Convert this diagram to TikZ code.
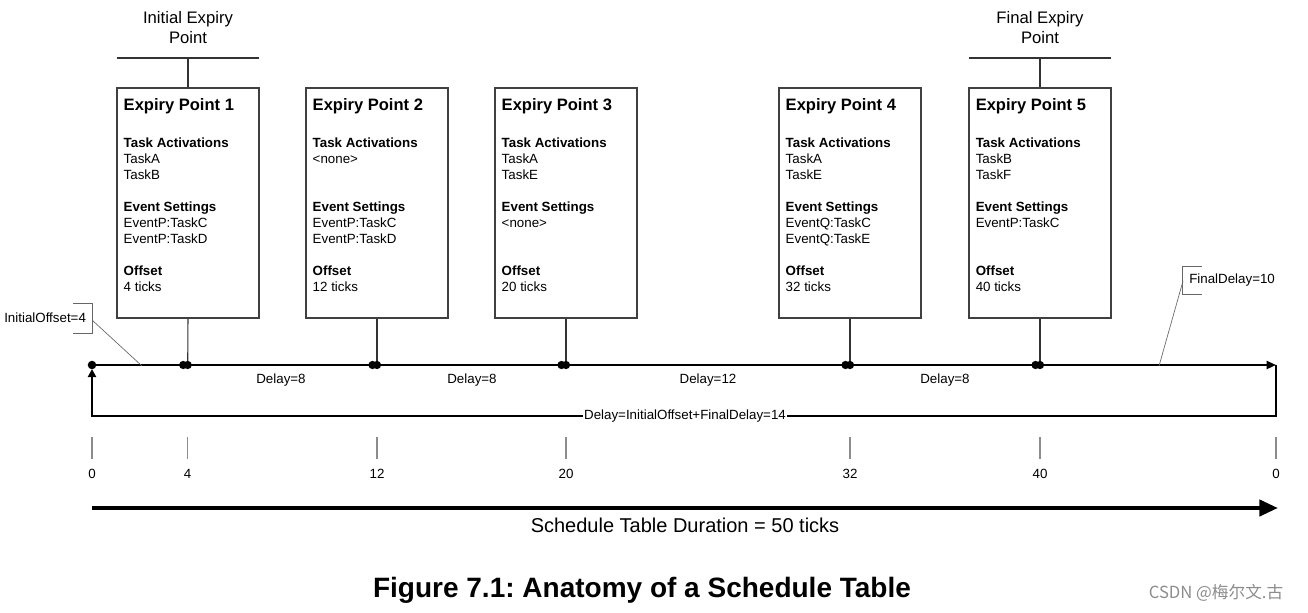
\documentclass[tikz,border=0pt]{standalone}
\usepackage{fontspec}
\setmainfont{Liberation Sans}
\newfontfamily\cjk{Noto Sans CJK SC}
\usetikzlibrary{arrows.meta,calc}
\frenchspacing
\begin{document}
\begin{tikzpicture}[x=0.75pt,y=-0.75pt,
  epbox/.style={draw=black!75, line width=0.8pt, minimum width=106.5pt, minimum height=172.5pt, inner sep=0pt},
  eptitle/.style={font=\fontsize{12.4}{14}\selectfont\bfseries, inner sep=0pt, anchor=west},
  epbody/.style={font=\fontsize{10}{12}\selectfont, align=left, inner sep=0pt, anchor=north west},
  lbl/.style={font=\fontsize{10}{12}\selectfont, inner sep=1pt},
  hdr/.style={font=\fontsize{12.5}{15}\selectfont, align=center, inner sep=0pt},
  conn/.style={draw=black!80, line width=0.8pt},
  axis/.style={line width=1.5pt},
  tick/.style={draw=black!45, line width=0.8pt},
  callout/.style={draw=black!60, line width=0.5pt},
  bracket/.style={draw=black!60, line width=0.7pt}
]
\useasboundingbox (0,0) rectangle (1308,613);

\newcommand\ExpBox[4]{%
  \node[epbox] (#1) at (#2,203) {};
  \node[eptitle] (#1t) at ($(#1.north west)+(7,18.5)$) {#3};
  \node[epbody] (#1b) at ($(#1.north west)+(7,50.5)$) {#4};
}

% timeline coordinates
\coordinate (t0) at (92,365);
\coordinate (t4) at (187.7,365);
\coordinate (t12) at (377,365);
\coordinate (t20) at (566,365);
\coordinate (t32) at (850,365);
\coordinate (t40) at (1040,365);
\coordinate (t50) at (1276,365);

% boxes
\ExpBox{e1}{188}{Expiry Point 1}{\textbf{Task Activations}\\TaskA\\TaskB\\[12pt]\textbf{Event Settings}\\EventP:TaskC\\EventP:TaskD\\[12pt]\textbf{Offset}\\4 ticks}
\ExpBox{e2}{377}{Expiry Point 2}{\textbf{Task Activations}\\<none>\\[24pt]\textbf{Event Settings}\\EventP:TaskC\\EventP:TaskD\\[12pt]\textbf{Offset}\\12 ticks}
\ExpBox{e3}{566}{Expiry Point 3}{\textbf{Task Activations}\\TaskA\\TaskE\\[12pt]\textbf{Event Settings}\\<none>\\[24pt]\textbf{Offset}\\20 ticks}
\ExpBox{e4}{850}{Expiry Point 4}{\textbf{Task Activations}\\TaskA\\TaskE\\[12pt]\textbf{Event Settings}\\EventQ:TaskC\\EventQ:TaskE\\[12pt]\textbf{Offset}\\32 ticks}
\ExpBox{e5}{1040}{Expiry Point 5}{\textbf{Task Activations}\\TaskB\\TaskF\\[12pt]\textbf{Event Settings}\\EventP:TaskC\\[24pt]\textbf{Offset}\\40 ticks}

% headers
\node[hdr] (ih) at (188,28) {Initial Expiry\\Point};
\coordinate (ihl) at (117,58); \coordinate (ihr) at (259,58);
\draw[conn] (ihl) -- (ihr);
\draw[conn] (e1.north) -- (e1.north |- ihl);
\node[hdr] (fh) at (1040,28) {Final Expiry\\Point};
\coordinate (fhl) at (969,58); \coordinate (fhr) at (1111,58);
\draw[conn] (fhl) -- (fhr);
\draw[conn] (e5.north) -- (e5.north |- fhl);

% connectors to timeline
\foreach \b/\t in {e1/t4,e2/t12,e3/t20,e4/t32,e5/t40}
  \draw[conn] (\b.south) -- (\t);

% timeline
\draw[axis, -{Triangle[length=7pt,width=6pt]}] (t0) -- (t50);
\fill (t0) circle (3.2pt);
\foreach \t in {t4,t12,t20,t32,t40}{
  \fill ($(\t)+(-4.5,0)$) circle (3.1pt);
  \fill (\t) circle (3.1pt);
}

% delay labels
\node[lbl] (d1) at (281,380) {Delay=8};
\node[lbl] (d2) at (472,380) {Delay=8};
\node[lbl] (d3) at (708,380) {Delay=12};
\node[lbl] (d4) at (945,380) {Delay=8};

% loop back
\coordinate (lr) at (1276,416);
\coordinate (ll) at (92,416);
\coordinate (la) at (92,369);
\draw[axis, -{Triangle[length=6pt,width=6pt]}] (t50) -- (lr) -- (ll) -- (la);
\node[lbl, fill=white] (dl) at (685,416) {Delay=InitialOffset+FinalDelay=14};

% InitialOffset callout
\node[lbl, anchor=west, inner sep=0pt] (io) at (4,318) {InitialOffset=4};
\coordinate (iob1) at (73,303); \coordinate (iob2) at (92,303);
\coordinate (iob3) at (92,333); \coordinate (iob4) at (73,333);
\coordinate (iop) at (92,320); \coordinate (ioq) at (142,366);
\draw[bracket] (iob1) -- (iob2) -- (iob3) -- (iob4);
\draw[callout] (iop) -- (ioq);

% FinalDelay callout
\node[lbl, anchor=west, inner sep=0pt] (fd) at (1189,280) {FinalDelay=10};
\coordinate (fdb1) at (1202,266); \coordinate (fdb2) at (1182,266);
\coordinate (fdb3) at (1182,294); \coordinate (fdb4) at (1202,294);
\coordinate (fdp) at (1183,281); \coordinate (fdq) at (1159,366);
\draw[bracket] (fdb1) -- (fdb2) -- (fdb3) -- (fdb4);
\draw[callout] (fdp) -- (fdq);

% ticks
\foreach \x/\v [count=\i] in {92/0,187.7/4,377/12,566/20,850/32,1040/40,1276/0}{
  \coordinate (ka\i) at (\x,437);
  \coordinate (kb\i) at (\x,459);
  \draw[tick] (ka\i) -- (kb\i);
  \node[lbl] (kl\i) at (\x,474) {\v};
}

% duration arrow
\coordinate (da) at (92,508);
\coordinate (db) at (1278,508);
\draw[line width=3.2pt, -{Triangle[length=14pt,width=12pt]}] (da) -- (db);
\node[font=\fontsize{15}{18}\selectfont, inner sep=0pt] (dur) at (685,525) {Schedule Table Duration = 50 ticks};

% caption
\node[font=\fontsize{21}{25}\selectfont\bfseries, inner sep=0pt] (cap) at (642,590) {Figure 7.1: Anatomy of a Schedule Table};

% watermark
\node[font=\cjk\fontsize{12.5}{15}\selectfont, text=black!45, inner sep=0pt] (wm) at (1216,593) {CSDN @梅尔文.古};
\end{tikzpicture}
\end{document}
